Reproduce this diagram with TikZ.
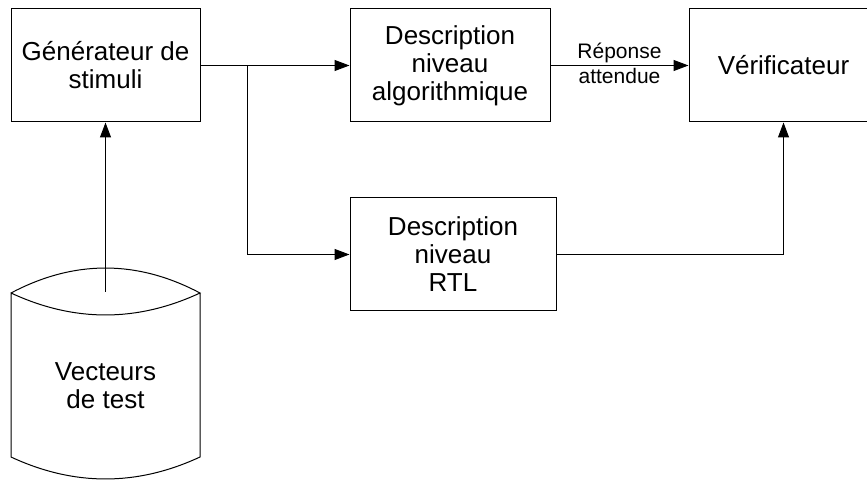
\documentclass[tikz,border=0pt]{standalone}
\usepackage{fontspec}
\setmainfont{Liberation Sans}
\usepackage{tikz}
\usetikzlibrary{arrows.meta}

\begin{document}
\begin{tikzpicture}[x=0.5pt,y=-0.5pt,line width=0.5pt]
	\useasboundingbox (0,0) rectangle (867,480);
	\begin{scope}[every node/.style={rectangle,draw,inner sep=0pt,align=center,
				  minimum width=94.5pt,minimum height=56.5pt,
				  font=\fontsize{13}{14}\selectfont}]
		\node (gen) at (105.5,65.5) {Générateur de\\stimuli};
		\node[minimum width=100pt] (algo) at (450,65.5) {Description\\niveau\\algorithmique};
		\node (verif) at (783.5,65.5) {Vérificateur};
		\node[minimum width=103pt] (rtl) at (453,254.5) {Description\\niveau\\RTL};
	\end{scope}

	% base de vecteurs
	\draw (11,293) .. controls (74,259.7) and (137,259.7) .. (200,293)
		.. controls (137,322.3) and (74,322.3) .. (11,293) -- (11,457)
		.. controls (74,486.3) and (137,486.3) .. (200,457) -- (200,293);
	\node[align=center,font=\fontsize{13}{14}\selectfont] (vect) at (105.5,386) {Vecteurs\\de test};
	\coordinate (vtop) at (105.5,292);
	\coordinate (split) at (247,65.5);

	\begin{scope}[>={Triangle[length=7.5pt,width=5.5pt]},
				  every node/.style={inner sep=1pt,font=\fontsize{10.5}{12}\selectfont}]
		\draw[->] (vtop) -- (gen);
		\draw (gen) -- (split);
		\draw[->] (split) -- (algo);
		\draw[->] (split) |- (rtl);
		\draw[->] (algo) -- node[above] {Réponse} node[below] {attendue} (verif);
		\draw[->] (rtl) -| (verif);
	\end{scope}
\end{tikzpicture}
\end{document}
